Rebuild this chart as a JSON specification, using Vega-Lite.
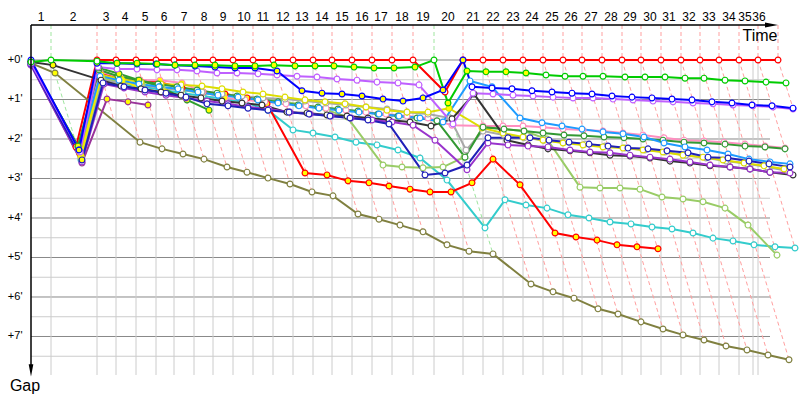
{
"$schema": "https://vega.github.io/schema/vega-lite/v6.json",
"width": 747, "height": 350,
"autosize": {"type": "none"},
"padding": {"left": 31, "top": 25, "right": 22, "bottom": 25},
"background": "white",
"config": {"view": {"stroke": null}, "font": "Liberation Sans"},
"datasets": {
"vgrid": [{"t":2.0},{"t":6.6},{"t":8.5},{"t":10.5},{"t":12.5},{"t":14.3},{"t":16.3},{"t":18.2},{"t":20.2},{"t":22.2},{"t":24.2},{"t":26.2},{"t":28.2},{"t":30.1},{"t":32.1},{"t":34.1},{"t":36.1},{"t":38.2},{"t":40.3},{"t":43.2},{"t":45.2},{"t":47.2},{"t":49.2},{"t":51.2},{"t":53.2},{"t":55.1},{"t":57.1},{"t":59.1},{"t":61.0},{"t":63.0},{"t":65.0},{"t":66.9},{"t":68.8},{"t":70.8},{"t":72.2},{"t":72.7}],
"labels": [{"lap":"1","t":1.0},{"lap":"2","t":4.2},{"lap":"3","t":7.5},{"lap":"4","t":9.4},{"lap":"5","t":11.4},{"lap":"6","t":13.3},{"lap":"7","t":15.3},{"lap":"8","t":17.3},{"lap":"9","t":19.2},{"lap":"10","t":21.3},{"lap":"11","t":23.2},{"lap":"12","t":25.2},{"lap":"13","t":27.1},{"lap":"14","t":29.1},{"lap":"15","t":31.1},{"lap":"16","t":33.1},{"lap":"17","t":35.0},{"lap":"18","t":37.1},{"lap":"19","t":39.2},{"lap":"20","t":41.7},{"lap":"21","t":44.2},{"lap":"22","t":46.2},{"lap":"23","t":48.2},{"lap":"24","t":50.1},{"lap":"25","t":52.1},{"lap":"26","t":54.0},{"lap":"27","t":56.0},{"lap":"28","t":58.0},{"lap":"29","t":59.9},{"lap":"30","t":61.9},{"lap":"31","t":63.8},{"lap":"32","t":65.8},{"lap":"33","t":67.8},{"lap":"34","t":69.8},{"lap":"35","t":71.4},{"lap":"36","t":72.8}],
"ylabels": [{"g":0,"lab":"+0'"},{"g":1,"lab":"+1'"},{"g":2,"lab":"+2'"},{"g":3,"lab":"+3'"},{"g":4,"lab":"+4'"},{"g":5,"lab":"+5'"},{"g":6,"lab":"+6'"},{"g":7,"lab":"+7'"}],
"laps": [
{"lap":1,"t":2.0,"g":-0.886,"lead":"green"},{"lap":1,"t":2.0,"g":0,"lead":"green"},{"lap":1,"t":5.1,"g":2.61,"lead":"green"},
{"lap":2,"t":6.6,"g":-0.886,"lead":"red"},{"lap":2,"t":6.6,"g":0,"lead":"red"},{"lap":2,"t":8.3,"g":1.54,"lead":"red"},
{"lap":3,"t":8.5,"g":-0.886,"lead":"red"},{"lap":3,"t":8.5,"g":0,"lead":"red"},{"lap":3,"t":10.9,"g":2.08,"lead":"red"},
{"lap":4,"t":10.5,"g":-0.886,"lead":"red"},{"lap":4,"t":10.5,"g":0,"lead":"red"},{"lap":4,"t":13.1,"g":2.25,"lead":"red"},
{"lap":5,"t":12.5,"g":-0.886,"lead":"red"},{"lap":5,"t":12.5,"g":0,"lead":"red"},{"lap":5,"t":15.2,"g":2.38,"lead":"red"},
{"lap":6,"t":14.3,"g":-0.886,"lead":"red"},{"lap":6,"t":14.3,"g":0,"lead":"red"},{"lap":6,"t":17.3,"g":2.51,"lead":"red"},
{"lap":7,"t":16.3,"g":-0.886,"lead":"red"},{"lap":7,"t":16.3,"g":0,"lead":"red"},{"lap":7,"t":19.6,"g":2.71,"lead":"red"},
{"lap":8,"t":18.2,"g":-0.886,"lead":"red"},{"lap":8,"t":18.2,"g":0,"lead":"red"},{"lap":8,"t":21.6,"g":2.84,"lead":"red"},
{"lap":9,"t":20.2,"g":-0.886,"lead":"red"},{"lap":9,"t":20.2,"g":0,"lead":"red"},{"lap":9,"t":23.7,"g":2.99,"lead":"red"},
{"lap":10,"t":22.2,"g":-0.886,"lead":"red"},{"lap":10,"t":22.2,"g":0,"lead":"red"},{"lap":10,"t":25.9,"g":3.14,"lead":"red"},
{"lap":11,"t":24.2,"g":-0.886,"lead":"red"},{"lap":11,"t":24.2,"g":0,"lead":"red"},{"lap":11,"t":28.1,"g":3.34,"lead":"red"},
{"lap":12,"t":26.2,"g":-0.886,"lead":"red"},{"lap":12,"t":26.2,"g":0,"lead":"red"},{"lap":12,"t":30.2,"g":3.44,"lead":"red"},
{"lap":13,"t":28.2,"g":-0.886,"lead":"red"},{"lap":13,"t":28.2,"g":0,"lead":"red"},{"lap":13,"t":32.7,"g":3.90,"lead":"red"},
{"lap":14,"t":30.1,"g":-0.886,"lead":"red"},{"lap":14,"t":30.1,"g":0,"lead":"red"},{"lap":14,"t":34.8,"g":4.03,"lead":"red"},
{"lap":15,"t":32.1,"g":-0.886,"lead":"red"},{"lap":15,"t":32.1,"g":0,"lead":"red"},{"lap":15,"t":36.9,"g":4.18,"lead":"red"},
{"lap":16,"t":34.1,"g":-0.886,"lead":"red"},{"lap":16,"t":34.1,"g":0,"lead":"red"},{"lap":16,"t":39.2,"g":4.35,"lead":"red"},
{"lap":17,"t":36.1,"g":-0.886,"lead":"red"},{"lap":17,"t":36.1,"g":0,"lead":"red"},{"lap":17,"t":41.6,"g":4.68,"lead":"red"},
{"lap":18,"t":38.2,"g":-0.886,"lead":"red"},{"lap":18,"t":38.2,"g":0,"lead":"red"},{"lap":18,"t":43.8,"g":4.84,"lead":"red"},
{"lap":19,"t":40.3,"g":-0.886,"lead":"green"},{"lap":19,"t":40.3,"g":0,"lead":"green"},{"lap":19,"t":46.2,"g":4.91,"lead":"green"},
{"lap":20,"t":43.2,"g":-0.886,"lead":"red"},{"lap":20,"t":43.2,"g":0,"lead":"red"},{"lap":20,"t":50.0,"g":5.67,"lead":"red"},
{"lap":21,"t":45.2,"g":-0.886,"lead":"red"},{"lap":21,"t":45.2,"g":0,"lead":"red"},{"lap":21,"t":52.2,"g":5.87,"lead":"red"},
{"lap":22,"t":47.2,"g":-0.886,"lead":"red"},{"lap":22,"t":47.2,"g":0,"lead":"red"},{"lap":22,"t":54.3,"g":6.03,"lead":"red"},
{"lap":23,"t":49.2,"g":-0.886,"lead":"red"},{"lap":23,"t":49.2,"g":0,"lead":"red"},{"lap":23,"t":56.7,"g":6.30,"lead":"red"},
{"lap":24,"t":51.2,"g":-0.886,"lead":"red"},{"lap":24,"t":51.2,"g":0,"lead":"red"},{"lap":24,"t":58.7,"g":6.43,"lead":"red"},
{"lap":25,"t":53.2,"g":-0.886,"lead":"red"},{"lap":25,"t":53.2,"g":0,"lead":"red"},{"lap":25,"t":61.0,"g":6.63,"lead":"red"},
{"lap":26,"t":55.1,"g":-0.886,"lead":"red"},{"lap":26,"t":55.1,"g":0,"lead":"red"},{"lap":26,"t":63.2,"g":6.81,"lead":"red"},
{"lap":27,"t":57.1,"g":-0.886,"lead":"red"},{"lap":27,"t":57.1,"g":0,"lead":"red"},{"lap":27,"t":65.2,"g":6.96,"lead":"red"},
{"lap":28,"t":59.1,"g":-0.886,"lead":"red"},{"lap":28,"t":59.1,"g":0,"lead":"red"},{"lap":28,"t":67.3,"g":7.09,"lead":"red"},
{"lap":29,"t":61.0,"g":-0.886,"lead":"red"},{"lap":29,"t":61.0,"g":0,"lead":"red"},{"lap":29,"t":69.5,"g":7.24,"lead":"red"},
{"lap":30,"t":63.0,"g":-0.886,"lead":"red"},{"lap":30,"t":63.0,"g":0,"lead":"red"},{"lap":30,"t":71.6,"g":7.34,"lead":"red"},
{"lap":31,"t":65.0,"g":-0.886,"lead":"red"},{"lap":31,"t":65.0,"g":0,"lead":"red"},{"lap":31,"t":73.7,"g":7.47,"lead":"red"},
{"lap":32,"t":66.9,"g":-0.886,"lead":"red"},{"lap":32,"t":66.9,"g":0,"lead":"red"},{"lap":32,"t":75.8,"g":7.59,"lead":"red"},
{"lap":33,"t":68.8,"g":-0.886,"lead":"red"},{"lap":33,"t":68.8,"g":0,"lead":"red"},{"lap":33,"t":74.6,"g":4.94,"lead":"red"},
{"lap":34,"t":70.8,"g":-0.886,"lead":"red"},{"lap":34,"t":70.8,"g":0,"lead":"red"},{"lap":34,"t":76.4,"g":4.76,"lead":"red"},
{"lap":35,"t":72.7,"g":-0.886,"lead":"red"},{"lap":35,"t":72.7,"g":0,"lead":"red"},{"lap":35,"t":76.2,"g":2.91,"lead":"red"},
{"lap":36,"t":74.7,"g":-0.886,"lead":"red"},{"lap":36,"t":74.7,"g":0,"lead":"red"},{"lap":36,"t":76.2,"g":1.22,"lead":"red"}
],
"drv": [
{"d":"red","t":0,"g":0.05,"f":"w"},{"d":"red","t":4.5,"g":2.2,"f":"w"},{"d":"red","t":6.6,"g":0,"f":"w"},{"d":"red","t":8.5,"g":0,"f":"w"},{"d":"red","t":10.5,"g":0,"f":"w"},{"d":"red","t":12.5,"g":0,"f":"w"},{"d":"red","t":14.3,"g":0,"f":"w"},{"d":"red","t":16.3,"g":0,"f":"w"},{"d":"red","t":18.2,"g":0,"f":"w"},{"d":"red","t":20.2,"g":0,"f":"w"},{"d":"red","t":22.2,"g":0,"f":"w"},{"d":"red","t":24.2,"g":0,"f":"w"},{"d":"red","t":26.2,"g":0,"f":"w"},{"d":"red","t":28.2,"g":0,"f":"w"},{"d":"red","t":30.1,"g":0,"f":"w"},{"d":"red","t":32.1,"g":0,"f":"w"},{"d":"red","t":34.1,"g":0,"f":"w"},{"d":"red","t":36.1,"g":0,"f":"w"},{"d":"red","t":38.2,"g":0,"f":"w"},{"d":"red","t":41.4,"g":0.81,"f":"w"},{"d":"red","t":43.2,"g":0,"f":"w"},{"d":"red","t":45.2,"g":0,"f":"w"},{"d":"red","t":47.2,"g":0,"f":"w"},{"d":"red","t":49.2,"g":0,"f":"w"},{"d":"red","t":51.2,"g":0,"f":"w"},{"d":"red","t":53.2,"g":0,"f":"w"},{"d":"red","t":55.1,"g":0,"f":"w"},{"d":"red","t":57.1,"g":0,"f":"w"},{"d":"red","t":59.1,"g":0,"f":"w"},{"d":"red","t":61.0,"g":0,"f":"w"},{"d":"red","t":63.0,"g":0,"f":"w"},{"d":"red","t":65.0,"g":0,"f":"w"},{"d":"red","t":66.9,"g":0,"f":"w"},{"d":"red","t":68.8,"g":0,"f":"w"},{"d":"red","t":70.8,"g":0,"f":"w"},{"d":"red","t":72.7,"g":0,"f":"w"},{"d":"red","t":74.7,"g":0,"f":"w"},

{"d":"olive","t":0,"g":0.08,"f":"w"},{"d":"olive","t":2.4,"g":0.33,"f":"y"},{"d":"olive","t":10.9,"g":2.08,"f":"w"},{"d":"olive","t":13.1,"g":2.25,"f":"w"},{"d":"olive","t":15.2,"g":2.38,"f":"w"},{"d":"olive","t":17.3,"g":2.51,"f":"w"},{"d":"olive","t":19.6,"g":2.71,"f":"w"},{"d":"olive","t":21.6,"g":2.84,"f":"w"},{"d":"olive","t":23.7,"g":2.99,"f":"w"},{"d":"olive","t":25.9,"g":3.14,"f":"w"},{"d":"olive","t":28.1,"g":3.34,"f":"w"},{"d":"olive","t":30.2,"g":3.44,"f":"w"},{"d":"olive","t":32.7,"g":3.90,"f":"w"},{"d":"olive","t":34.8,"g":4.03,"f":"w"},{"d":"olive","t":36.9,"g":4.18,"f":"w"},{"d":"olive","t":39.2,"g":4.35,"f":"w"},{"d":"olive","t":41.6,"g":4.68,"f":"w"},{"d":"olive","t":43.8,"g":4.84,"f":"w"},{"d":"olive","t":46.2,"g":4.91,"f":"w"},{"d":"olive","t":50.0,"g":5.67,"f":"w"},{"d":"olive","t":52.2,"g":5.87,"f":"w"},{"d":"olive","t":54.3,"g":6.03,"f":"w"},{"d":"olive","t":56.7,"g":6.30,"f":"w"},{"d":"olive","t":58.7,"g":6.43,"f":"w"},{"d":"olive","t":61.0,"g":6.63,"f":"w"},{"d":"olive","t":63.2,"g":6.81,"f":"w"},{"d":"olive","t":65.2,"g":6.96,"f":"w"},{"d":"olive","t":67.3,"g":7.09,"f":"w"},{"d":"olive","t":69.5,"g":7.24,"f":"w"},{"d":"olive","t":71.6,"g":7.34,"f":"w"},{"d":"olive","t":73.7,"g":7.47,"f":"w"},{"d":"olive","t":75.8,"g":7.59,"f":"w"},

{"d":"cyan","t":0,"g":0.1,"f":"w"},{"d":"cyan","t":5.0,"g":2.53,"f":"w"},{"d":"cyan","t":7.1,"g":0.51,"f":"w"},{"d":"cyan","t":9.1,"g":0.61,"f":"w"},{"d":"cyan","t":11.2,"g":0.68,"f":"w"},{"d":"cyan","t":13.2,"g":0.76,"f":"w"},{"d":"cyan","t":15.2,"g":0.84,"f":"w"},{"d":"cyan","t":17.2,"g":0.91,"f":"w"},{"d":"cyan","t":19.3,"g":0.99,"f":"w"},{"d":"cyan","t":21.3,"g":1.06,"f":"w"},{"d":"cyan","t":23.7,"g":1.27,"f":"w"},{"d":"cyan","t":26.2,"g":1.77,"f":"w"},{"d":"cyan","t":28.2,"g":1.85,"f":"w"},{"d":"cyan","t":30.4,"g":1.95,"f":"w"},{"d":"cyan","t":32.5,"g":2.08,"f":"w"},{"d":"cyan","t":34.6,"g":2.15,"f":"w"},{"d":"cyan","t":36.7,"g":2.28,"f":"w"},{"d":"cyan","t":38.9,"g":2.48,"f":"w"},{"d":"cyan","t":41.6,"g":3.04,"f":"w"},{"d":"cyan","t":45.4,"g":4.25,"f":"w"},{"d":"cyan","t":47.4,"g":3.54,"f":"w"},{"d":"cyan","t":49.5,"g":3.67,"f":"w"},{"d":"cyan","t":51.6,"g":3.75,"f":"w"},{"d":"cyan","t":53.7,"g":3.92,"f":"w"},{"d":"cyan","t":55.8,"g":4.0,"f":"w"},{"d":"cyan","t":57.9,"g":4.10,"f":"w"},{"d":"cyan","t":60.0,"g":4.15,"f":"w"},{"d":"cyan","t":62.1,"g":4.23,"f":"w"},{"d":"cyan","t":64.1,"g":4.28,"f":"w"},{"d":"cyan","t":66.2,"g":4.38,"f":"w"},{"d":"cyan","t":68.2,"g":4.51,"f":"w"},{"d":"cyan","t":70.2,"g":4.58,"f":"w"},{"d":"cyan","t":72.3,"g":4.68,"f":"w"},{"d":"cyan","t":74.4,"g":4.73,"f":"w"},{"d":"cyan","t":76.4,"g":4.76,"f":"w"},

{"d":"yellowgreen","t":0,"g":0.08,"f":"w"},{"d":"yellowgreen","t":5.0,"g":2.48,"f":"w"},{"d":"yellowgreen","t":7.1,"g":0.46,"f":"w"},{"d":"yellowgreen","t":9.1,"g":0.56,"f":"w"},{"d":"yellowgreen","t":11.1,"g":0.63,"f":"w"},{"d":"yellowgreen","t":13.1,"g":0.71,"f":"w"},{"d":"yellowgreen","t":15.1,"g":0.76,"f":"w"},{"d":"yellowgreen","t":17.1,"g":0.84,"f":"w"},{"d":"yellowgreen","t":19.1,"g":0.89,"f":"w"},{"d":"yellowgreen","t":21.2,"g":0.94,"f":"w"},{"d":"yellowgreen","t":23.2,"g":0.99,"f":"w"},{"d":"yellowgreen","t":25.3,"g":1.06,"f":"w"},{"d":"yellowgreen","t":27.4,"g":1.14,"f":"w"},{"d":"yellowgreen","t":29.6,"g":1.27,"f":"w"},{"d":"yellowgreen","t":31.6,"g":1.44,"f":"w"},{"d":"yellowgreen","t":35.2,"g":2.66,"f":"w"},{"d":"yellowgreen","t":37.1,"g":2.71,"f":"w"},{"d":"yellowgreen","t":39.2,"g":2.73,"f":"w"},{"d":"yellowgreen","t":41.2,"g":2.71,"f":"w"},{"d":"yellowgreen","t":43.3,"g":2.46,"f":"w"},{"d":"yellowgreen","t":45.2,"g":1.70,"f":"w"},{"d":"yellowgreen","t":47.3,"g":1.75,"f":"w"},{"d":"yellowgreen","t":49.3,"g":1.80,"f":"w"},{"d":"yellowgreen","t":51.6,"g":2.0,"f":"w"},{"d":"yellowgreen","t":54.9,"g":3.22,"f":"w"},{"d":"yellowgreen","t":56.9,"g":3.24,"f":"w"},{"d":"yellowgreen","t":58.9,"g":3.24,"f":"w"},{"d":"yellowgreen","t":60.9,"g":3.27,"f":"w"},{"d":"yellowgreen","t":63.1,"g":3.47,"f":"w"},{"d":"yellowgreen","t":65.2,"g":3.52,"f":"w"},{"d":"yellowgreen","t":67.2,"g":3.59,"f":"w"},{"d":"yellowgreen","t":69.4,"g":3.75,"f":"w"},{"d":"yellowgreen","t":71.7,"g":4.18,"f":"w"},{"d":"yellowgreen","t":74.6,"g":4.94,"f":"w"},

{"d":"red2","t":0,"g":0.05,"f":"y"},{"d":"red2","t":4.9,"g":2.38,"f":"y"},{"d":"red2","t":6.9,"g":0.33,"f":"y"},{"d":"red2","t":8.9,"g":0.46,"f":"y"},{"d":"red2","t":10.9,"g":0.51,"f":"y"},{"d":"red2","t":12.9,"g":0.56,"f":"y"},{"d":"red2","t":15.1,"g":0.71,"f":"y"},{"d":"red2","t":17.2,"g":0.81,"f":"y"},{"d":"red2","t":19.4,"g":0.86,"f":"y"},{"d":"red2","t":21.6,"g":0.96,"f":"y"},{"d":"red2","t":23.6,"g":1.11,"f":"y"},{"d":"red2","t":27.4,"g":2.86,"f":"y"},{"d":"red2","t":29.6,"g":2.91,"f":"y"},{"d":"red2","t":31.7,"g":3.06,"f":"y"},{"d":"red2","t":33.8,"g":3.11,"f":"y"},{"d":"red2","t":35.8,"g":3.19,"f":"y"},{"d":"red2","t":37.9,"g":3.27,"f":"y"},{"d":"red2","t":39.9,"g":3.34,"f":"y"},{"d":"red2","t":42.0,"g":3.34,"f":"y"},{"d":"red2","t":44.1,"g":3.11,"f":"y"},{"d":"red2","t":46.2,"g":2.51,"f":"y"},{"d":"red2","t":48.9,"g":3.16,"f":"y"},{"d":"red2","t":52.4,"g":4.38,"f":"y"},{"d":"red2","t":54.5,"g":4.48,"f":"y"},{"d":"red2","t":56.6,"g":4.56,"f":"y"},{"d":"red2","t":58.6,"g":4.68,"f":"y"},{"d":"red2","t":60.6,"g":4.73,"f":"y"},{"d":"red2","t":62.7,"g":4.78,"f":"y"},

{"d":"pink","t":0,"g":0.08,"f":"w"},{"d":"pink","t":4.8,"g":2.3,"f":"y"},{"d":"pink","t":6.9,"g":0.30,"f":"y"},{"d":"pink","t":8.9,"g":0.43,"f":"y"},{"d":"pink","t":10.9,"g":0.51,"f":"y"},{"d":"pink","t":12.9,"g":0.51,"f":"y"},{"d":"pink","t":15.1,"g":0.58,"f":"y"},{"d":"pink","t":17.2,"g":0.81,"f":"y"},{"d":"pink","t":19.4,"g":0.96,"f":"y"},{"d":"pink","t":21.4,"g":1.01,"f":"w"},{"d":"pink","t":23.4,"g":1.06,"f":"w"},{"d":"pink","t":25.5,"g":1.11,"f":"w"},{"d":"pink","t":27.5,"g":1.16,"f":"w"},{"d":"pink","t":29.5,"g":1.22,"f":"w"},{"d":"pink","t":31.5,"g":1.27,"f":"w"},{"d":"pink","t":33.5,"g":1.32,"f":"w"},{"d":"pink","t":35.5,"g":1.37,"f":"w"},{"d":"pink","t":37.6,"g":1.42,"f":"w"},{"d":"pink","t":39.7,"g":1.47,"f":"w"},{"d":"pink","t":42.1,"g":1.65,"f":"w"},{"d":"pink","t":45.2,"g":1.67,"f":"w"},{"d":"pink","t":47.2,"g":1.67,"f":"w"},{"d":"pink","t":49.2,"g":1.67,"f":"w"},{"d":"pink","t":51.2,"g":1.70,"f":"w"},{"d":"pink","t":53.2,"g":1.75,"f":"w"},{"d":"pink","t":55.2,"g":1.77,"f":"w"},{"d":"pink","t":57.2,"g":1.80,"f":"w"},{"d":"pink","t":59.2,"g":1.85,"f":"w"},{"d":"pink","t":61.2,"g":1.90,"f":"w"},{"d":"pink","t":63.3,"g":1.97,"f":"w"},{"d":"pink","t":65.3,"g":2.03,"f":"w"},{"d":"pink","t":67.3,"g":2.05,"f":"w"},{"d":"pink","t":69.3,"g":2.08,"f":"w"},{"d":"pink","t":71.4,"g":2.13,"f":"w"},{"d":"pink","t":73.4,"g":2.18,"f":"w"},{"d":"pink","t":75.4,"g":2.23,"f":"w"},

{"d":"grey","t":0,"g":0.08,"f":"w"},{"d":"grey","t":5.0,"g":2.46,"f":"y"},{"d":"grey","t":7.0,"g":0.51,"f":"w"},{"d":"grey","t":9.0,"g":0.58,"f":"w"},{"d":"grey","t":11.0,"g":0.63,"f":"w"},{"d":"grey","t":13.0,"g":0.71,"f":"w"},{"d":"grey","t":15.0,"g":0.76,"f":"w"},{"d":"grey","t":17.1,"g":0.81,"f":"w"},{"d":"grey","t":19.1,"g":0.86,"f":"w"},{"d":"grey","t":21.1,"g":0.91,"f":"w"},{"d":"grey","t":23.2,"g":0.96,"f":"w"},{"d":"grey","t":25.4,"g":0.99,"f":"w"},{"d":"grey","t":27.4,"g":1.04,"f":"w"},{"d":"grey","t":29.5,"g":1.09,"f":"w"},{"d":"grey","t":31.5,"g":1.14,"f":"w"},{"d":"grey","t":33.5,"g":1.19,"f":"w"},{"d":"grey","t":35.6,"g":1.24,"f":"w"},{"d":"grey","t":37.6,"g":1.32,"f":"w"},{"d":"grey","t":39.7,"g":1.37,"f":"w"},{"d":"grey","t":41.9,"g":1.47,"f":"w"},{"d":"grey","t":43.5,"g":2.28,"f":"w"},{"d":"grey","t":45.2,"g":1.80,"f":"w"},{"d":"grey","t":47.3,"g":1.90,"f":"w"},{"d":"grey","t":49.3,"g":1.97,"f":"w"},{"d":"grey","t":51.3,"g":2.03,"f":"w"},{"d":"grey","t":53.3,"g":2.08,"f":"w"},{"d":"grey","t":55.4,"g":2.13,"f":"w"},{"d":"grey","t":57.4,"g":2.18,"f":"w"},{"d":"grey","t":59.4,"g":2.23,"f":"w"},{"d":"grey","t":61.4,"g":2.28,"f":"w"},{"d":"grey","t":63.4,"g":2.33,"f":"w"},{"d":"grey","t":65.5,"g":2.41,"f":"w"},{"d":"grey","t":67.5,"g":2.48,"f":"w"},{"d":"grey","t":69.5,"g":2.56,"f":"w"},{"d":"grey","t":71.6,"g":2.63,"f":"w"},{"d":"grey","t":73.6,"g":2.71,"f":"w"},{"d":"grey","t":75.7,"g":2.81,"f":"w"},

{"d":"yellowA","t":0,"g":0.08,"f":"w"},{"d":"yellowA","t":4.9,"g":2.35,"f":"w"},{"d":"yellowA","t":7.0,"g":0.38,"f":"w"},{"d":"yellowA","t":9.0,"g":0.48,"f":"w"},{"d":"yellowA","t":11.0,"g":0.56,"f":"w"},{"d":"yellowA","t":13.0,"g":0.61,"f":"w"},{"d":"yellowA","t":15.0,"g":0.63,"f":"w"},{"d":"yellowA","t":17.1,"g":0.66,"f":"w"},{"d":"yellowA","t":19.1,"g":0.73,"f":"w"},{"d":"yellowA","t":21.2,"g":0.81,"f":"w"},{"d":"yellowA","t":23.2,"g":0.86,"f":"w"},{"d":"yellowA","t":25.4,"g":0.94,"f":"w"},{"d":"yellowA","t":27.4,"g":1.01,"f":"w"},{"d":"yellowA","t":29.4,"g":1.06,"f":"w"},{"d":"yellowA","t":31.4,"g":1.11,"f":"w"},{"d":"yellowA","t":33.5,"g":1.19,"f":"w"},{"d":"yellowA","t":35.6,"g":1.27,"f":"w"},{"d":"yellowA","t":37.6,"g":1.32,"f":"w"},{"d":"yellowA","t":39.7,"g":1.32,"f":"w"},{"d":"yellowA","t":41.8,"g":1.22,"f":"y"},{"d":"yellowA","t":45.1,"g":1.72,"f":"w"},{"d":"yellowA","t":47.2,"g":1.85,"f":"w"},{"d":"yellowA","t":49.2,"g":1.95,"f":"w"},{"d":"yellowA","t":51.2,"g":2.03,"f":"w"},{"d":"yellowA","t":53.2,"g":2.10,"f":"w"},{"d":"yellowA","t":55.2,"g":2.15,"f":"w"},{"d":"yellowA","t":57.2,"g":2.20,"f":"w"},{"d":"yellowA","t":59.2,"g":2.23,"f":"w"},{"d":"yellowA","t":61.2,"g":2.28,"f":"w"},{"d":"yellowA","t":63.2,"g":2.33,"f":"w"},{"d":"yellowA","t":65.2,"g":2.41,"f":"w"},{"d":"yellowA","t":67.2,"g":2.46,"f":"w"},{"d":"yellowA","t":69.2,"g":2.53,"f":"w"},{"d":"yellowA","t":71.3,"g":2.61,"f":"w"},{"d":"yellowA","t":73.3,"g":2.68,"f":"w"},{"d":"yellowA","t":75.3,"g":2.76,"f":"w"},

{"d":"yellowB","t":0,"g":0.1,"f":"w"},{"d":"yellowB","t":5.0,"g":2.43,"f":"y"},{"d":"yellowB","t":7.0,"g":0.43,"f":"y"},{"d":"yellowB","t":9.1,"g":0.51,"f":"y"},{"d":"yellowB","t":11.3,"g":0.76,"f":"y"},{"d":"yellowB","t":13.4,"g":0.81,"f":"y"},{"d":"yellowB","t":15.5,"g":0.96,"f":"y"},

{"d":"darkgreen","t":0,"g":0.05,"f":"w"},{"d":"darkgreen","t":4.7,"g":2.2,"f":"w"},{"d":"darkgreen","t":6.8,"g":0.25,"f":"w"},{"d":"darkgreen","t":8.7,"g":0.41,"f":"w"},{"d":"darkgreen","t":10.7,"g":0.51,"f":"w"},{"d":"darkgreen","t":12.7,"g":0.61,"f":"w"},{"d":"darkgreen","t":14.6,"g":0.68,"f":"w"},{"d":"darkgreen","t":16.6,"g":0.76,"f":"w"},{"d":"darkgreen","t":18.6,"g":0.84,"f":"w"},{"d":"darkgreen","t":20.6,"g":0.91,"f":"w"},{"d":"darkgreen","t":22.6,"g":0.99,"f":"w"},{"d":"darkgreen","t":24.7,"g":1.06,"f":"w"},{"d":"darkgreen","t":26.7,"g":1.14,"f":"w"},{"d":"darkgreen","t":28.7,"g":1.19,"f":"w"},{"d":"darkgreen","t":30.7,"g":1.24,"f":"w"},{"d":"darkgreen","t":32.7,"g":1.29,"f":"w"},{"d":"darkgreen","t":34.7,"g":1.37,"f":"w"},{"d":"darkgreen","t":36.7,"g":1.42,"f":"w"},{"d":"darkgreen","t":38.6,"g":1.47,"f":"w"},{"d":"darkgreen","t":40.6,"g":1.54,"f":"w"},{"d":"darkgreen","t":43.4,"g":2.46,"f":"w"},{"d":"darkgreen","t":45.2,"g":1.70,"f":"w"},{"d":"darkgreen","t":47.3,"g":1.75,"f":"w"},{"d":"darkgreen","t":49.3,"g":1.80,"f":"w"},{"d":"darkgreen","t":51.2,"g":1.85,"f":"w"},{"d":"darkgreen","t":53.3,"g":1.90,"f":"w"},{"d":"darkgreen","t":55.3,"g":1.92,"f":"w"},{"d":"darkgreen","t":57.3,"g":1.95,"f":"w"},{"d":"darkgreen","t":59.3,"g":1.97,"f":"w"},{"d":"darkgreen","t":61.2,"g":2.0,"f":"w"},{"d":"darkgreen","t":63.2,"g":2.03,"f":"w"},{"d":"darkgreen","t":65.3,"g":2.08,"f":"w"},{"d":"darkgreen","t":67.3,"g":2.10,"f":"w"},{"d":"darkgreen","t":69.4,"g":2.13,"f":"w"},{"d":"darkgreen","t":71.4,"g":2.18,"f":"w"},{"d":"darkgreen","t":73.4,"g":2.20,"f":"w"},{"d":"darkgreen","t":75.4,"g":2.25,"f":"w"},

{"d":"greenShort","t":0,"g":0.08,"f":"w"},{"d":"greenShort","t":4.7,"g":2.18,"f":"y"},{"d":"greenShort","t":6.8,"g":0.20,"f":"y"},{"d":"greenShort","t":8.8,"g":0.35,"f":"y"},{"d":"greenShort","t":10.8,"g":0.51,"f":"y"},{"d":"greenShort","t":12.9,"g":0.68,"f":"y"},{"d":"greenShort","t":15.6,"g":1.01,"f":"y"},{"d":"greenShort","t":17.8,"g":1.27,"f":"y"},

{"d":"purpleShort","t":0,"g":0.13,"f":"w"},{"d":"purpleShort","t":5.1,"g":2.61,"f":"y"},{"d":"purpleShort","t":7.6,"g":0.99,"f":"y"},{"d":"purpleShort","t":9.7,"g":1.06,"f":"y"},{"d":"purpleShort","t":11.7,"g":1.14,"f":"y"},

{"d":"lightblue","t":0,"g":0.08,"f":"w"},{"d":"lightblue","t":4.8,"g":2.28,"f":"w"},{"d":"lightblue","t":6.9,"g":0.41,"f":"w"},{"d":"lightblue","t":8.8,"g":0.51,"f":"w"},{"d":"lightblue","t":10.8,"g":0.61,"f":"w"},{"d":"lightblue","t":12.8,"g":0.68,"f":"w"},{"d":"lightblue","t":14.7,"g":0.73,"f":"w"},{"d":"lightblue","t":16.7,"g":0.81,"f":"w"},{"d":"lightblue","t":18.7,"g":0.89,"f":"w"},{"d":"lightblue","t":20.7,"g":0.94,"f":"w"},{"d":"lightblue","t":22.7,"g":1.01,"f":"w"},{"d":"lightblue","t":24.7,"g":1.09,"f":"w"},{"d":"lightblue","t":26.8,"g":1.16,"f":"w"},{"d":"lightblue","t":28.8,"g":1.22,"f":"w"},{"d":"lightblue","t":30.8,"g":1.27,"f":"w"},{"d":"lightblue","t":32.8,"g":1.32,"f":"w"},{"d":"lightblue","t":34.8,"g":1.37,"f":"w"},{"d":"lightblue","t":36.8,"g":1.42,"f":"w"},{"d":"lightblue","t":38.9,"g":1.47,"f":"w"},{"d":"lightblue","t":41.2,"g":1.57,"f":"w"},{"d":"lightblue","t":43.9,"g":0.53,"f":"w"},{"d":"lightblue","t":46.1,"g":0.68,"f":"w"},{"d":"lightblue","t":48.9,"g":1.47,"f":"w"},{"d":"lightblue","t":51.1,"g":1.59,"f":"w"},{"d":"lightblue","t":53.1,"g":1.67,"f":"w"},{"d":"lightblue","t":55.1,"g":1.75,"f":"w"},{"d":"lightblue","t":57.2,"g":1.82,"f":"w"},{"d":"lightblue","t":59.2,"g":1.87,"f":"w"},{"d":"lightblue","t":61.3,"g":1.95,"f":"w"},{"d":"lightblue","t":63.3,"g":2.10,"f":"w"},{"d":"lightblue","t":65.4,"g":2.20,"f":"w"},{"d":"lightblue","t":67.6,"g":2.28,"f":"w"},{"d":"lightblue","t":69.7,"g":2.38,"f":"w"},{"d":"lightblue","t":71.8,"g":2.51,"f":"w"},{"d":"lightblue","t":73.9,"g":2.58,"f":"w"},{"d":"lightblue","t":75.9,"g":2.63,"f":"w"},

{"d":"darkgrey","t":0,"g":0.05,"f":"w"},{"d":"darkgrey","t":2.2,"g":0.13,"f":"y"},{"d":"darkgrey","t":7.0,"g":0.51,"f":"w"},{"d":"darkgrey","t":9.0,"g":0.66,"f":"w"},{"d":"darkgrey","t":11.0,"g":0.73,"f":"w"},{"d":"darkgrey","t":13.0,"g":0.81,"f":"w"},{"d":"darkgrey","t":15.0,"g":0.89,"f":"w"},{"d":"darkgrey","t":17.0,"g":0.96,"f":"w"},{"d":"darkgrey","t":19.1,"g":1.04,"f":"w"},{"d":"darkgrey","t":21.1,"g":1.09,"f":"w"},{"d":"darkgrey","t":23.1,"g":1.14,"f":"w"},{"d":"darkgrey","t":25.6,"g":1.32,"f":"w"},{"d":"darkgrey","t":27.6,"g":1.34,"f":"w"},{"d":"darkgrey","t":29.6,"g":1.39,"f":"w"},{"d":"darkgrey","t":31.6,"g":1.42,"f":"w"},{"d":"darkgrey","t":33.7,"g":1.47,"f":"w"},{"d":"darkgrey","t":35.8,"g":1.52,"f":"w"},{"d":"darkgrey","t":37.9,"g":1.57,"f":"w"},{"d":"darkgrey","t":40.0,"g":1.67,"f":"w"},{"d":"darkgrey","t":42.1,"g":1.49,"f":"w"},{"d":"darkgrey","t":44.3,"g":0.86,"f":"w"},{"d":"darkgrey","t":47.6,"g":2.03,"f":"w"},{"d":"darkgrey","t":49.7,"g":2.15,"f":"w"},{"d":"darkgrey","t":51.7,"g":2.25,"f":"w"},{"d":"darkgrey","t":53.9,"g":2.30,"f":"w"},{"d":"darkgrey","t":55.9,"g":2.35,"f":"w"},{"d":"darkgrey","t":57.9,"g":2.41,"f":"w"},{"d":"darkgrey","t":59.9,"g":2.43,"f":"w"},{"d":"darkgrey","t":61.9,"g":2.48,"f":"w"},{"d":"darkgrey","t":63.9,"g":2.56,"f":"w"},{"d":"darkgrey","t":65.9,"g":2.61,"f":"w"},{"d":"darkgrey","t":67.9,"g":2.68,"f":"w"},{"d":"darkgrey","t":69.9,"g":2.71,"f":"w"},{"d":"darkgrey","t":71.9,"g":2.76,"f":"w"},{"d":"darkgrey","t":73.9,"g":2.84,"f":"w"},{"d":"darkgrey","t":76.2,"g":2.91,"f":"w"},

{"d":"purple","t":0,"g":0.13,"f":"w"},{"d":"purple","t":5.1,"g":2.58,"f":"w"},{"d":"purple","t":7.3,"g":0.61,"f":"w"},{"d":"purple","t":9.3,"g":0.71,"f":"w"},{"d":"purple","t":11.4,"g":0.81,"f":"w"},{"d":"purple","t":13.5,"g":0.89,"f":"w"},{"d":"purple","t":15.5,"g":0.96,"f":"w"},{"d":"purple","t":17.6,"g":1.04,"f":"w"},{"d":"purple","t":19.7,"g":1.11,"f":"w"},{"d":"purple","t":21.7,"g":1.19,"f":"w"},{"d":"purple","t":23.8,"g":1.24,"f":"w"},{"d":"purple","t":25.9,"g":1.32,"f":"w"},{"d":"purple","t":27.9,"g":1.37,"f":"w"},{"d":"purple","t":30.0,"g":1.42,"f":"w"},{"d":"purple","t":32.0,"g":1.47,"f":"w"},{"d":"purple","t":34.1,"g":1.52,"f":"w"},{"d":"purple","t":36.1,"g":1.57,"f":"w"},{"d":"purple","t":38.2,"g":1.65,"f":"w"},{"d":"purple","t":40.4,"g":2.03,"f":"w"},{"d":"purple","t":43.6,"g":2.78,"f":"w"},{"d":"purple","t":45.7,"g":2.10,"f":"w"},{"d":"purple","t":47.7,"g":2.15,"f":"w"},{"d":"purple","t":49.7,"g":2.18,"f":"w"},{"d":"purple","t":51.7,"g":2.20,"f":"w"},{"d":"purple","t":53.9,"g":2.28,"f":"w"},{"d":"purple","t":55.9,"g":2.33,"f":"w"},{"d":"purple","t":57.9,"g":2.35,"f":"w"},{"d":"purple","t":59.9,"g":2.41,"f":"w"},{"d":"purple","t":61.9,"g":2.46,"f":"w"},{"d":"purple","t":63.9,"g":2.51,"f":"w"},{"d":"purple","t":65.9,"g":2.58,"f":"w"},{"d":"purple","t":67.9,"g":2.66,"f":"w"},{"d":"purple","t":69.9,"g":2.71,"f":"w"},{"d":"purple","t":71.9,"g":2.76,"f":"w"},{"d":"purple","t":73.9,"g":2.84,"f":"w"},{"d":"purple","t":75.9,"g":2.86,"f":"w"},

{"d":"navy","t":0,"g":0.1,"f":"w"},{"d":"navy","t":5.1,"g":2.53,"f":"y"},{"d":"navy","t":7.2,"g":0.58,"f":"w"},{"d":"navy","t":9.3,"g":0.68,"f":"w"},{"d":"navy","t":11.4,"g":0.76,"f":"w"},{"d":"navy","t":13.5,"g":0.84,"f":"w"},{"d":"navy","t":15.5,"g":0.94,"f":"w"},{"d":"navy","t":17.6,"g":1.11,"f":"w"},{"d":"navy","t":19.7,"g":1.16,"f":"w"},{"d":"navy","t":21.7,"g":1.22,"f":"w"},{"d":"navy","t":23.7,"g":1.27,"f":"w"},{"d":"navy","t":25.8,"g":1.32,"f":"w"},{"d":"navy","t":27.8,"g":1.37,"f":"w"},{"d":"navy","t":29.9,"g":1.42,"f":"w"},{"d":"navy","t":31.9,"g":1.47,"f":"w"},{"d":"navy","t":33.7,"g":1.52,"f":"w"},{"d":"navy","t":35.8,"g":1.62,"f":"w"},{"d":"navy","t":39.4,"g":2.91,"f":"w"},{"d":"navy","t":41.4,"g":2.86,"f":"w"},{"d":"navy","t":43.6,"g":2.66,"f":"w"},{"d":"navy","t":45.7,"g":1.97,"f":"w"},{"d":"navy","t":47.7,"g":1.97,"f":"w"},{"d":"navy","t":49.9,"g":1.97,"f":"w"},{"d":"navy","t":51.8,"g":2.03,"f":"w"},{"d":"navy","t":53.8,"g":2.08,"f":"w"},{"d":"navy","t":55.8,"g":2.13,"f":"w"},{"d":"navy","t":57.7,"g":2.18,"f":"w"},{"d":"navy","t":59.7,"g":2.23,"f":"w"},{"d":"navy","t":61.7,"g":2.25,"f":"w"},{"d":"navy","t":63.6,"g":2.30,"f":"w"},{"d":"navy","t":65.7,"g":2.35,"f":"w"},{"d":"navy","t":67.7,"g":2.46,"f":"w"},{"d":"navy","t":69.7,"g":2.48,"f":"w"},{"d":"navy","t":71.8,"g":2.56,"f":"w"},{"d":"navy","t":73.8,"g":2.63,"f":"w"},{"d":"navy","t":75.9,"g":2.71,"f":"w"},

{"d":"violet","t":0,"g":0.08,"f":"w"},{"d":"violet","t":4.9,"g":2.33,"f":"w"},{"d":"violet","t":6.7,"g":0.18,"f":"w"},{"d":"violet","t":8.6,"g":0.23,"f":"w"},{"d":"violet","t":10.6,"g":0.23,"f":"w"},{"d":"violet","t":12.6,"g":0.25,"f":"w"},{"d":"violet","t":14.6,"g":0.25,"f":"w"},{"d":"violet","t":16.6,"g":0.28,"f":"w"},{"d":"violet","t":18.6,"g":0.33,"f":"w"},{"d":"violet","t":20.6,"g":0.33,"f":"w"},{"d":"violet","t":22.7,"g":0.35,"f":"w"},{"d":"violet","t":24.6,"g":0.38,"f":"w"},{"d":"violet","t":26.6,"g":0.41,"f":"w"},{"d":"violet","t":28.6,"g":0.43,"f":"w"},{"d":"violet","t":30.6,"g":0.48,"f":"w"},{"d":"violet","t":32.6,"g":0.51,"f":"w"},{"d":"violet","t":34.6,"g":0.56,"f":"w"},{"d":"violet","t":36.7,"g":0.58,"f":"w"},{"d":"violet","t":38.8,"g":0.63,"f":"w"},{"d":"violet","t":42.2,"g":1.62,"f":"w"},{"d":"violet","t":44.2,"g":0.84,"f":"w"},{"d":"violet","t":46.2,"g":0.86,"f":"w"},{"d":"violet","t":48.2,"g":0.89,"f":"w"},{"d":"violet","t":50.2,"g":0.91,"f":"w"},{"d":"violet","t":52.2,"g":0.94,"f":"w"},{"d":"violet","t":54.2,"g":0.96,"f":"w"},{"d":"violet","t":56.2,"g":0.96,"f":"w"},{"d":"violet","t":58.2,"g":0.99,"f":"w"},{"d":"violet","t":60.2,"g":1.01,"f":"w"},{"d":"violet","t":62.2,"g":1.04,"f":"w"},{"d":"violet","t":64.2,"g":1.06,"f":"w"},{"d":"violet","t":66.2,"g":1.09,"f":"w"},{"d":"violet","t":68.2,"g":1.11,"f":"w"},{"d":"violet","t":70.2,"g":1.14,"f":"w"},{"d":"violet","t":72.2,"g":1.16,"f":"w"},{"d":"violet","t":74.2,"g":1.19,"f":"w"},{"d":"violet","t":76.2,"g":1.24,"f":"w"},

{"d":"blue","t":0,"g":0,"f":"w"},{"d":"blue","t":4.8,"g":2.28,"f":"y"},{"d":"blue","t":6.6,"g":0.08,"f":"y"},{"d":"blue","t":8.6,"g":0.08,"f":"y"},{"d":"blue","t":10.6,"g":0.10,"f":"y"},{"d":"blue","t":12.5,"g":0.10,"f":"y"},{"d":"blue","t":14.4,"g":0.13,"f":"y"},{"d":"blue","t":16.4,"g":0.15,"f":"y"},{"d":"blue","t":18.4,"g":0.18,"f":"y"},{"d":"blue","t":20.4,"g":0.20,"f":"y"},{"d":"blue","t":22.4,"g":0.20,"f":"y"},{"d":"blue","t":24.6,"g":0.28,"f":"y"},{"d":"blue","t":27.1,"g":0.78,"f":"y"},{"d":"blue","t":29.1,"g":0.84,"f":"y"},{"d":"blue","t":31.1,"g":0.86,"f":"y"},{"d":"blue","t":33.1,"g":0.91,"f":"y"},{"d":"blue","t":35.2,"g":0.99,"f":"y"},{"d":"blue","t":37.2,"g":1.04,"f":"y"},{"d":"blue","t":39.2,"g":0.96,"f":"y"},{"d":"blue","t":41.2,"g":0.76,"f":"y"},{"d":"blue","t":43.2,"g":0,"f":"y"},{"d":"blue","t":44.1,"g":0.68,"f":"w"},{"d":"blue","t":46.1,"g":0.71,"f":"w"},{"d":"blue","t":48.1,"g":0.73,"f":"w"},{"d":"blue","t":50.1,"g":0.78,"f":"w"},{"d":"blue","t":52.1,"g":0.81,"f":"w"},{"d":"blue","t":54.1,"g":0.84,"f":"w"},{"d":"blue","t":56.1,"g":0.86,"f":"w"},{"d":"blue","t":58.1,"g":0.91,"f":"w"},{"d":"blue","t":60.1,"g":0.94,"f":"w"},{"d":"blue","t":62.1,"g":0.96,"f":"w"},{"d":"blue","t":64.1,"g":0.99,"f":"w"},{"d":"blue","t":66.1,"g":1.01,"f":"w"},{"d":"blue","t":68.1,"g":1.06,"f":"w"},{"d":"blue","t":70.1,"g":1.09,"f":"w"},{"d":"blue","t":72.1,"g":1.14,"f":"w"},{"d":"blue","t":74.1,"g":1.16,"f":"w"},{"d":"blue","t":76.2,"g":1.22,"f":"w"},

{"d":"green","t":0,"g":0.05,"f":"w"},{"d":"green","t":2.0,"g":0,"f":"w"},{"d":"green","t":6.6,"g":0.03,"f":"w"},{"d":"green","t":8.6,"g":0.08,"f":"y"},{"d":"green","t":10.6,"g":0.08,"f":"y"},{"d":"green","t":12.6,"g":0.10,"f":"y"},{"d":"green","t":14.4,"g":0.13,"f":"y"},{"d":"green","t":16.4,"g":0.13,"f":"y"},{"d":"green","t":18.4,"g":0.13,"f":"y"},{"d":"green","t":20.4,"g":0.15,"f":"y"},{"d":"green","t":22.4,"g":0.15,"f":"y"},{"d":"green","t":24.3,"g":0.13,"f":"y"},{"d":"green","t":26.4,"g":0.15,"f":"y"},{"d":"green","t":28.4,"g":0.15,"f":"y"},{"d":"green","t":30.3,"g":0.15,"f":"y"},{"d":"green","t":32.3,"g":0.18,"f":"y"},{"d":"green","t":34.3,"g":0.20,"f":"y"},{"d":"green","t":36.3,"g":0.20,"f":"y"},{"d":"green","t":38.4,"g":0.18,"f":"y"},{"d":"green","t":40.3,"g":0,"f":"w"},{"d":"green","t":41.7,"g":1.09,"f":"y"},{"d":"green","t":43.6,"g":0.28,"f":"y"},{"d":"green","t":45.5,"g":0.30,"f":"y"},{"d":"green","t":47.5,"g":0.30,"f":"y"},{"d":"green","t":49.5,"g":0.33,"f":"y"},{"d":"green","t":51.5,"g":0.38,"f":"w"},{"d":"green","t":53.4,"g":0.41,"f":"w"},{"d":"green","t":55.2,"g":0.41,"f":"w"},{"d":"green","t":57.2,"g":0.41,"f":"w"},{"d":"green","t":59.4,"g":0.43,"f":"w"},{"d":"green","t":61.4,"g":0.43,"f":"w"},{"d":"green","t":63.4,"g":0.43,"f":"w"},{"d":"green","t":65.4,"g":0.46,"f":"w"},{"d":"green","t":67.3,"g":0.46,"f":"w"},{"d":"green","t":69.4,"g":0.51,"f":"w"},{"d":"green","t":71.4,"g":0.53,"f":"w"},{"d":"green","t":73.5,"g":0.56,"f":"w"},{"d":"green","t":75.5,"g":0.58,"f":"w"}
]
},
"layer": [
{"data": {"values": [{"g":0.5},{"g":1.5},{"g":2.5},{"g":3.5},{"g":4.5},{"g":5.5},{"g":6.5},{"g":7.5}]},
 "mark": {"type": "rule", "color": "#cccccc", "strokeWidth": 1},
 "encoding": {
  "x": {"datum": 0, "type": "quantitative", "scale": {"domain": [0, 74.7], "nice": false, "zero": false}, "axis": null},
  "x2": {"datum": 73.9},
  "y": {"field": "g", "type": "quantitative", "scale": {"domain": [-0.886, 7.975], "reverse": true, "nice": false, "zero": false}, "axis": null}
 }},
{"data": {"values": [{"g":0},{"g":1},{"g":2},{"g":3},{"g":4},{"g":5},{"g":6},{"g":7}]},
 "mark": {"type": "rule", "color": "#888888", "strokeWidth": 1},
 "encoding": {
  "x": {"datum": 0, "type": "quantitative", "scale": {"domain": [0, 74.7], "nice": false, "zero": false}, "axis": null},
  "x2": {"datum": 73.9},
  "y": {"field": "g", "type": "quantitative", "scale": {"domain": [-0.886, 7.975], "reverse": true, "nice": false, "zero": false}, "axis": null}
 }},
{"data": {"name": "vgrid"},
 "mark": {"type": "rule", "color": "#cccccc", "strokeWidth": 1},
 "encoding": {
  "x": {"field": "t", "type": "quantitative", "scale": {"domain": [0, 74.7], "nice": false, "zero": false}, "axis": null},
  "y": {"datum": 0, "type": "quantitative", "scale": {"domain": [-0.886, 7.975], "reverse": true, "nice": false, "zero": false}, "axis": null},
  "y2": {"datum": 7.975}
 }},
{"data": {"name": "laps"},
 "mark": {"type": "line", "strokeWidth": 1, "strokeDash": [4, 3]},
 "encoding": {
  "x": {"field": "t", "type": "quantitative", "scale": {"domain": [0, 74.7], "nice": false, "zero": false}, "axis": null},
  "y": {"field": "g", "type": "quantitative", "scale": {"domain": [-0.886, 7.975], "reverse": true, "nice": false, "zero": false}, "axis": null},
  "detail": {"field": "lap", "type": "nominal"},
  "order": {"field": "g", "type": "quantitative"},
  "color": {"field": "lead", "type": "nominal", "scale": {"domain": ["red", "green"], "range": ["#ff9f9f", "#9fe59f"]}, "legend": null}
 }},
{"data": {"name": "drv"},
 "mark": {"type": "line", "strokeWidth": 2},
 "encoding": {
  "x": {"field": "t", "type": "quantitative", "scale": {"domain": [0, 74.7], "nice": false, "zero": false}, "axis": null},
  "y": {"field": "g", "type": "quantitative", "scale": {"domain": [-0.886, 7.975], "reverse": true, "nice": false, "zero": false}, "axis": null},
  "stroke": {"field": "d", "type": "nominal", "legend": null,
    "scale": {"domain": ["red","olive","cyan","yellowgreen","red2","pink","grey","yellowA","yellowB","darkgreen","greenShort","purpleShort","lightblue","darkgrey","purple","navy","violet","blue","green"],
              "range": ["#ff0000","#808040","#33cccc","#99cc66","#ff0000","#ff8fc0","#a8a8a8","#dddd00","#eeee00","#339933","#2e9e2e","#993399","#1e9bff","#333333","#9933cc","#2020b8","#bf5fff","#0000ff","#00cc00"]}}
 }},
{"data": {"name": "drv"},
 "mark": {"type": "circle", "size": 34, "strokeWidth": 1.2, "opacity": 1},
 "encoding": {
  "x": {"field": "t", "type": "quantitative", "scale": {"domain": [0, 74.7], "nice": false, "zero": false}, "axis": null},
  "y": {"field": "g", "type": "quantitative", "scale": {"domain": [-0.886, 7.975], "reverse": true, "nice": false, "zero": false}, "axis": null},
  "stroke": {"field": "d", "type": "nominal", "legend": null},
  "fill": {"field": "f", "type": "nominal", "legend": null, "scale": {"domain": ["w", "y"], "range": ["#ffffff", "#ffff00"]}}
 }},
{"data": {"values": [{}]},
 "mark": {"type": "rule", "color": "#000000", "strokeWidth": 1.5},
 "encoding": {
  "x": {"datum": 0, "type": "quantitative", "scale": {"domain": [0, 74.7], "nice": false, "zero": false}, "axis": null},
  "y": {"datum": -0.886, "type": "quantitative", "scale": {"domain": [-0.886, 7.975], "reverse": true, "nice": false, "zero": false}, "axis": null},
  "y2": {"datum": 7.8}
 }},
{"data": {"values": [{}]},
 "mark": {"type": "rule", "color": "#000000", "strokeWidth": 1.5},
 "encoding": {
  "x": {"datum": 0, "type": "quantitative", "scale": {"domain": [0, 74.7], "nice": false, "zero": false}, "axis": null},
  "x2": {"datum": 73.6},
  "y": {"datum": -0.886, "type": "quantitative", "scale": {"domain": [-0.886, 7.975], "reverse": true, "nice": false, "zero": false}, "axis": null}
 }},
{"data": {"name": "ylabels"},
 "mark": {"type": "text", "fontSize": 11, "font": "Liberation Sans", "color": "#000000", "baseline": "middle", "align": "right"},
 "encoding": {
  "x": {"datum": -0.85, "type": "quantitative", "scale": {"domain": [0, 74.7], "nice": false, "zero": false}, "axis": null},
  "y": {"field": "g", "type": "quantitative", "scale": {"domain": [-0.886, 7.975], "reverse": true, "nice": false, "zero": false}, "axis": null},
  "text": {"field": "lab", "type": "nominal"}
 }},
{"data": {"name": "labels"},
 "mark": {"type": "text", "fontSize": 12, "font": "Liberation Sans", "color": "#000000", "baseline": "middle", "align": "center"},
 "encoding": {
  "x": {"field": "t", "type": "quantitative", "scale": {"domain": [0, 74.7], "nice": false, "zero": false}, "axis": null},
  "y": {"datum": -1.1, "type": "quantitative", "scale": {"domain": [-0.886, 7.975], "reverse": true, "nice": false, "zero": false}, "axis": null},
  "text": {"field": "lap", "type": "nominal"}
 }},
{"data": {"values": [{}]},
 "mark": {"type": "text", "text": "Time", "fontSize": 16, "font": "Liberation Sans", "color": "#000000", "baseline": "middle", "align": "center"},
 "encoding": {
  "x": {"datum": 72.9, "type": "quantitative", "scale": {"domain": [0, 74.7], "nice": false, "zero": false}, "axis": null},
  "y": {"datum": -0.62, "type": "quantitative", "scale": {"domain": [-0.886, 7.975], "reverse": true, "nice": false, "zero": false}, "axis": null}
 }},
{"data": {"values": [{}]},
 "mark": {"type": "text", "text": "Gap", "fontSize": 16, "font": "Liberation Sans", "color": "#000000", "baseline": "middle", "align": "center"},
 "encoding": {
  "x": {"datum": -0.6, "type": "quantitative", "scale": {"domain": [0, 74.7], "nice": false, "zero": false}, "axis": null},
  "y": {"datum": 8.25, "type": "quantitative", "scale": {"domain": [-0.886, 7.975], "reverse": true, "nice": false, "zero": false}, "axis": null}
 }},
{"data": {"values": [{}]},
 "mark": {"type": "point", "shape": "M-1,-0.38L1,0L-1,0.38Z", "size": 170, "filled": true, "color": "#000000", "opacity": 1},
 "encoding": {
  "x": {"datum": 74.05, "type": "quantitative", "scale": {"domain": [0, 74.7], "nice": false, "zero": false}, "axis": null},
  "y": {"datum": -0.886, "type": "quantitative", "scale": {"domain": [-0.886, 7.975], "reverse": true, "nice": false, "zero": false}, "axis": null}
 }},
{"data": {"values": [{}]},
 "mark": {"type": "point", "shape": "M-0.38,-1L0.38,-1L0,1Z", "size": 150, "filled": true, "color": "#000000", "opacity": 1},
 "encoding": {
  "x": {"datum": 0, "type": "quantitative", "scale": {"domain": [0, 74.7], "nice": false, "zero": false}, "axis": null},
  "y": {"datum": 7.86, "type": "quantitative", "scale": {"domain": [-0.886, 7.975], "reverse": true, "nice": false, "zero": false}, "axis": null}
 }}
]
}
